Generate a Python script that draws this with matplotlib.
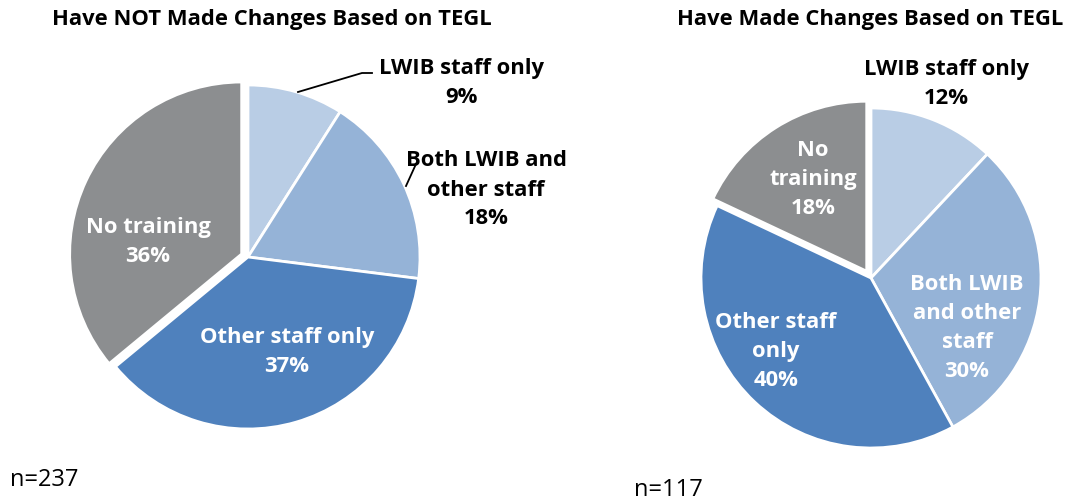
import matplotlib.pyplot as plt

plt.rcParams['font.family'] = ['Open Sans', 'DejaVu Sans']

# data
labels_not = ["LWIB staff only", "Both LWIB and\nother staff", "Other staff only", "No training"]
values_not = [9, 18, 37, 36]
labels_made = ["LWIB staff only", "Both LWIB\nand other\nstaff", "Other staff\nonly", "No\ntraining"]
values_made = [12, 30, 40, 18]
n_not = 237
n_made = 117
colors = ["#B9CDE5", "#95B3D7", "#4F81BD", "#8C8E90"]

W, H = 1081, 502
fig = plt.figure(figsize=(W / 100, H / 100), dpi=100)
ax = fig.add_axes([0, 0, 1, 1])


def py(y):
    # pixel row from top -> data y
    return H - y


wedge_kw = dict(edgecolor="white", linewidth=2)

# explode is in data units (pixels here), not fractions of the radius
ax.pie(values_not, colors=colors, startangle=90, counterclock=False,
       center=(248, py(258)), radius=172, explode=[0, 0, 0, 7],
       wedgeprops=wedge_kw, frame=True)
ax.pie(values_made, colors=colors, startangle=90, counterclock=False,
       center=(871, py(279)), radius=170, explode=[0, 0, 0, 8],
       wedgeprops=wedge_kw, frame=True)
ax.set_xlim(0, W)
ax.set_ylim(0, H)
ax.set_aspect("equal")
ax.axis("off")

fs = 15.8
bold = dict(fontsize=fs, fontweight="bold", ha="center", va="center", linespacing=1.5)

# titles
ax.text(272, py(20), "Have NOT Made Changes Based on TEGL", **bold)
ax.text(870, py(20), "Have Made Changes Based on TEGL", **bold)

# left pie labels
ax.text(461, py(83), f"{labels_not[0]}\n{values_not[0]}%", color="black", **bold)
ax.plot([298, 362, 372], [py(93), py(74), py(74)], color="black", lw=1.3)
ax.text(486, py(190), f"{labels_not[1]}\n{values_not[1]}%", color="black", **bold)
ax.plot([406, 416], [py(187), py(165)], color="black", lw=1.3)
ax.text(287, py(352), f"{labels_not[2]}\n{values_not[2]}%", color="white", **bold)
ax.text(148, py(242), f"{labels_not[3]}\n{values_not[3]}%", color="white", **bold)

# right pie labels
ax.text(946, py(84), f"{labels_made[0]}\n{values_made[0]}%", color="black", **bold)
ax.text(967, py(328), f"{labels_made[1]}\n{values_made[1]}%", color="white", **bold)
ax.text(776, py(352), f"{labels_made[2]}\n{values_made[2]}%", color="white", **bold)
ax.text(813, py(180), f"{labels_made[3]}\n{values_made[3]}%", color="white", **bold)

# sample sizes
ax.text(10, py(480), f"n={n_not}", fontsize=17, ha="left", va="center")
ax.text(634, py(490), f"n={n_made}", fontsize=17, ha="left", va="center")

fig.savefig("out.png", dpi=100)
